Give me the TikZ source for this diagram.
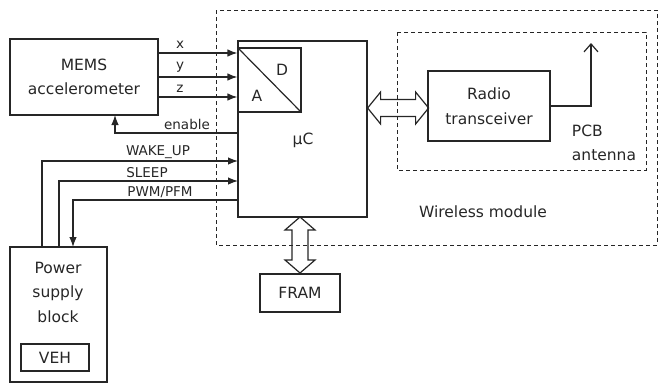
\documentclass[tikz,border=0pt]{standalone}
\usepackage{fontspec}
\setmainfont{DejaVu Sans}
\usetikzlibrary{arrows.meta,calc}
\definecolor{ink}{rgb}{0.15,0.15,0.15}
\begin{document}
\begin{tikzpicture}[x=1pt,y=-1pt,
  every node/.style={text=ink},
  box/.style={draw=ink,line width=1.2pt,inner sep=0pt,align=center,font=\fontsize{15.5}{24.5}\selectfont},
  lbl/.style={font=\fontsize{13.5}{15}\selectfont,inner sep=0pt},
  big/.style={font=\fontsize{15.5}{24.5}\selectfont,inner sep=0pt,align=left},
  sig/.style={draw=ink,line width=1.2pt,-{Latex[length=10pt,width=7.5pt]}},
  wire/.style={draw=ink,line width=1.2pt},
  dbl/.style={draw=ink,line width=1.2pt,line join=miter},
  grp/.style={draw=ink,line width=1pt,dash pattern=on 4pt off 3pt}]
\useasboundingbox (0,0) rectangle (660,383);
% groups
\draw[grp] (216,10) rectangle (657,245);
\draw[grp] (397,32) rectangle (646,170);
% blocks
\node[box,minimum width=148,minimum height=76] (mems) at (84,77) {MEMS\\accelerometer};
\node[box,minimum width=129,minimum height=176] (uc) at (302.5,129) {};
\node[box,minimum width=63,minimum height=64] (ad) at (269.5,80) {};
\draw[wire] (ad.north west) -- (ad.south east);
\node[big] (dl) at (282,70) {D};
\node[big] (al) at (257,96) {A};
\node[big] (ucl) at (303,140) {µC};
\node[box,minimum width=122,minimum height=70] (radio) at (489,106) {Radio\\transceiver};
\node[box,minimum width=80,minimum height=38] (fram) at (300,293) {FRAM};
\node[box,minimum width=97,minimum height=135] (psu) at (58.5,314.5) {};
\node[big,align=center] (psul) at (58,292) {Power\\supply\\block};
\node[box,minimum width=68,minimum height=27] (veh) at (55,357.5) {VEH};
% labels
\node[big] (pcb) at (604,143) {PCB\\antenna};
\node[big] (wm) at (483,212) {Wireless module};
% x y z
\foreach \yy/\t/\ly in {53/x/45,77/y/67,97/z/89}{
  \coordinate (s\t) at (158,\yy);
  \draw[sig] (s\t) -- (uc.west |- s\t);
  \node[lbl] (l\t) at (180,\ly) {\t};
}
% enable
\coordinate (en) at (238,133);
\draw[sig] (en) -- (115,133) -- (115,115);
\node[lbl] (len) at (187,124) {enable};
% WAKE_UP
\coordinate (wk) at (42,247);
\draw[sig] (wk) -- (42,161) -- (238,161);
\node[lbl] (lwk) at (158,152) {WAKE\_UP};
% SLEEP
\coordinate (sl) at (59,247);
\draw[sig] (sl) -- (59,181) -- (238,181);
\node[lbl] (lsl) at (147,173) {SLEEP};
% PWM/PFM
\coordinate (pw) at (238,200);
\draw[sig] (pw) -- (73,200) -- (73,247);
\node[lbl] (lpw) at (160,192) {PWM/PFM};
% double arrows
\coordinate (ha) at (uc.east |- 0,108);
\draw[dbl] (ha) -- ++(13,-16) -- ++(0,7.5) -- ++(35,0) -- ++(0,-7.5) -- ++(13,16)
  -- ++(-13,16) -- ++(0,-7.5) -- ++(-35,0) -- ++(0,7.5) -- cycle;
\coordinate (va) at (300,217);
\draw[dbl] (va) -- ++(-15,13) -- ++(7,0) -- ++(0,30) -- ++(-7,0) -- ++(15,13)
  -- ++(15,-13) -- ++(-7,0) -- ++(0,-30) -- ++(7,0) -- cycle;
% antenna
\draw[wire,-{Straight Barb[length=8pt,width=14pt]}] (radio.east) -- (591,106) -- (591,43);
\end{tikzpicture}
\end{document}
